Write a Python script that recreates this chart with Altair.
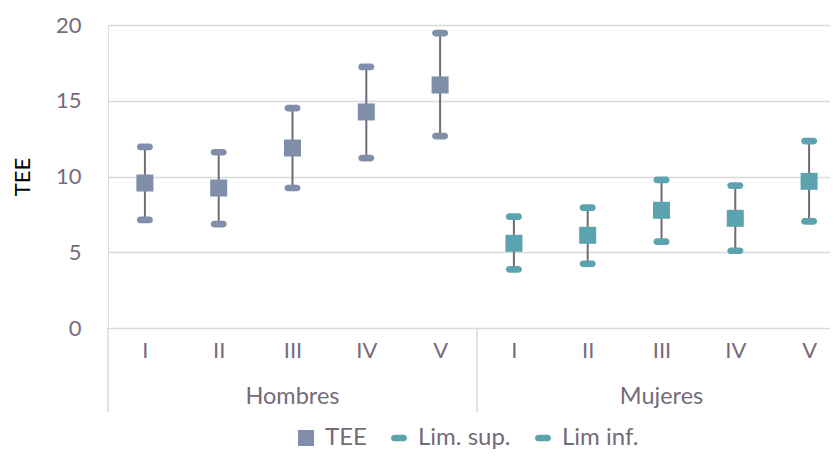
import altair as alt
import pandas as pd

groups = ["Hombres", "Mujeres"]
classes = ["I", "II", "III", "IV", "V"]
series = ["TEE", "Lim. sup.", "Lim inf."]

tee_h = [9.57, 9.24, 11.88, 14.26, 16.04]
sup_h = [11.95, 11.60, 14.52, 17.23, 19.47]
inf_h = [7.13, 6.86, 9.24, 11.22, 12.67]

tee_m = [5.59, 6.12, 7.77, 7.24, 9.68]
sup_m = [7.35, 7.94, 9.77, 9.40, 12.34]
inf_m = [3.87, 4.24, 5.70, 5.10, 7.04]

y_ticks = [0, 5, 10, 15, 20]

SLATE = "#7F8FA9"
TEAL = "#5BA3AF"
LINE = "#76677A"
TXT = "#766A7B"
GRID = "#D9D9D9"
FONT = "Lato"
CAP = "M -0.58 -0.42 L 0.58 -0.42 A 0.42 0.42 0 0 1 0.58 0.42 L -0.58 0.42 A 0.42 0.42 0 0 1 -0.58 -0.42 Z"

vals = {"Hombres": (tee_h, sup_h, inf_h), "Mujeres": (tee_m, sup_m, inf_m)}
rows = []
for gi, g in enumerate(groups):
    t, s, i = vals[g]
    for ci, c in enumerate(classes):
        rows.append(dict(group=g, cls=c, pos=gi * len(classes) + ci,
                         tee=t[ci], sup=s[ci], inf=i[ci]))
df = pd.DataFrame(rows)
n = len(df)
bounds = pd.DataFrame({"b": [gi * len(classes) - 0.5 for gi in range(len(groups))]})
legend_df = pd.DataFrame({"serie": series})

xscale = alt.Scale(domain=[-0.5, n - 0.5], nice=False, zero=False)
label_arr = "[" + ",".join("'%s'" % c for c in classes) + "]"
xaxis = alt.Axis(values=list(range(n)), labelExpr=label_arr + "[datum.value % 5]",
                 title=None, grid=False, domain=False, ticks=False, labelPadding=12,
                 labelFontSize=22, labelColor=TXT, labelFont=FONT)
yscale = alt.Scale(domain=[0, 20], nice=False, zero=True)
yaxis = alt.Axis(values=y_ticks, title="TEE", grid=True, gridColor=GRID, gridWidth=1.5,
                 domain=False, ticks=False, labelPadding=27, labelFontSize=22,
                 labelColor=TXT, labelFont=FONT, titleFontSize=22, titleColor="#000000",
                 titleFont=FONT, titleFontWeight="normal", titleAngle=-90,
                 titleX=-86, titleBaseline="middle")

def X(f):
    return alt.X(f, scale=xscale, axis=xaxis)

def Y(f):
    return alt.Y(f, scale=yscale, axis=yaxis)

gcolor = alt.Color("group:N", scale=alt.Scale(domain=groups, range=[SLATE, TEAL]), legend=None)

base = alt.Chart(df)

rules = base.mark_rule(color=LINE, strokeWidth=2).encode(x=X("pos:Q"), y=Y("inf:Q"), y2="sup:Q")
caps_up = base.mark_point(shape=CAP, size=256, filled=True, opacity=1).encode(
    x=X("pos:Q"), y=Y("sup:Q"), color=gcolor)
caps_lo = base.mark_point(shape=CAP, size=256, filled=True, opacity=1).encode(
    x=X("pos:Q"), y=Y("inf:Q"), color=gcolor)
squares = base.mark_point(shape="square", size=289, filled=True, opacity=1).encode(
    x=X("pos:Q"), y=Y("tee:Q"), color=gcolor)

glabels = base.transform_aggregate(center="mean(pos)", groupby=["group"]).mark_text(
    fontSize=23.5, color=TXT, font=FONT, baseline="middle").encode(
    x=X("center:Q"), y=alt.value(372), text="group:N")

seps = alt.Chart(bounds).mark_rule(color=GRID, strokeWidth=1.5).encode(
    x=X("b:Q"), y=alt.value(303), y2=alt.value(387))

leg = alt.Legend(orient="none", legendX=186, legendY=401, direction="horizontal", title=None,
                 labelFontSize=24, labelColor=TXT, labelFont=FONT, symbolSize=256,
                 symbolStrokeWidth=0, labelOffset=7, columnPadding=20, padding=0,
                 symbolOpacity=1)
legend_layer = alt.Chart(legend_df).transform_filter("false").mark_point(
    filled=True, opacity=1).encode(
    color=alt.Color("serie:N", scale=alt.Scale(domain=series, range=[SLATE, TEAL, TEAL]), legend=leg),
    shape=alt.Shape("serie:N", scale=alt.Scale(domain=series, range=["square", CAP, CAP]), legend=leg),
)

chart = alt.layer(seps, rules, caps_up, caps_lo, squares, glabels, legend_layer).resolve_scale(
    color="independent", shape="independent"
).properties(
    width=738, height=303,
    padding={"left": 100, "top": 17, "right": -16, "bottom": 124},
    autosize="none",
).configure_view(stroke=None).configure(font=FONT)

chart.save("out.html", embed_options={"renderer": "svg", "actions": False})
